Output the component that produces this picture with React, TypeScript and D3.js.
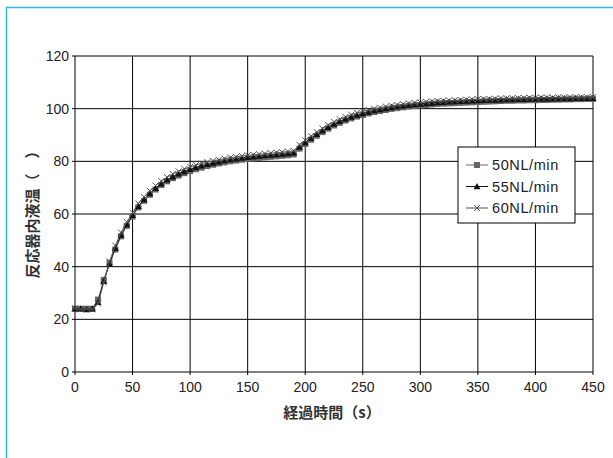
import React from 'react';
import * as d3 from 'd3';

// 経過時間 (s)
const times = [
  0, 5, 10, 15, 20, 25, 30, 35, 40, 45,
  50, 55, 60, 65, 70, 75, 80, 85, 90, 95,
  100, 105, 110, 115, 120, 125, 130, 135, 140, 145,
  150, 155, 160, 165, 170, 175, 180, 185, 190, 195,
  200, 205, 210, 215, 220, 225, 230, 235, 240, 245,
  250, 255, 260, 265, 270, 275, 280, 285, 290, 295,
  300, 305, 310, 315, 320, 325, 330, 335, 340, 345,
  350, 355, 360, 365, 370, 375, 380, 385, 390, 395,
  400, 405, 410, 415, 420, 425, 430, 435, 440, 445,
  450,
];

const temp50 = [
  24, 24, 24, 24, 27.5, 35, 41.5, 46.5, 51.5, 55.5,
  59, 62.5, 65, 67.3, 69.3, 71, 72.4, 73.6, 74.6, 75.5,
  76.3, 77, 77.6, 78.2, 78.7, 79.2, 79.6, 80, 80.3, 80.6,
  80.9, 81.1, 81.3, 81.5, 81.7, 81.9, 82.1, 82.3, 82.6, 84.8,
  86.6, 88.2, 89.7, 91.1, 92.4, 93.6, 94.6, 95.5, 96.3, 97,
  97.6, 98.2, 98.7, 99.1, 99.5, 99.9, 100.2, 100.5, 100.8, 101,
  101.2, 101.4, 101.6, 101.8, 101.9, 102, 102.1, 102.2, 102.3, 102.4,
  102.5, 102.6, 102.7, 102.8, 102.9, 103, 103, 103.1, 103.1, 103.2,
  103.2, 103.3, 103.3, 103.4, 103.4, 103.5, 103.5, 103.6, 103.6, 103.7,
  103.7,
];

const temp55 = [
  24, 24, 23.8, 24, 26.5, 34.5, 41, 47, 52, 56,
  59.5, 63, 65.5, 67.8, 69.8, 71.5, 73, 74.2, 75.3, 76.2,
  77, 77.7, 78.3, 78.9, 79.4, 79.9, 80.3, 80.7, 81, 81.3,
  81.6, 81.8, 82, 82.2, 82.4, 82.6, 82.8, 83, 83.3, 85.5,
  87.2, 88.8, 90.3, 91.7, 93, 94.2, 95.2, 96.1, 96.9, 97.6,
  98.2, 98.8, 99.3, 99.7, 100.1, 100.5, 100.8, 101.1, 101.4, 101.6,
  101.8, 102, 102.2, 102.4, 102.5, 102.6, 102.7, 102.8, 102.9, 103,
  103.1, 103.2, 103.3, 103.3, 103.4, 103.5, 103.5, 103.6, 103.6, 103.7,
  103.7, 103.8, 103.8, 103.8, 103.9, 103.9, 103.9, 104, 104, 104,
  104,
];

const temp60 = [
  24.2, 23.8, 24, 23.8, 26, 34, 42, 48, 53, 57,
  60.5, 64, 66.5, 68.8, 70.8, 72.5, 74, 75.2, 76.2, 77.1,
  77.9, 78.6, 79.2, 79.7, 80.2, 80.6, 81, 81.4, 81.7, 82,
  82.3, 82.5, 82.7, 82.9, 83.1, 83.3, 83.5, 83.7, 84, 86.3,
  88, 89.6, 91.1, 92.5, 93.8, 95, 96, 96.9, 97.7, 98.4,
  99, 99.5, 100, 100.4, 100.8, 101.1, 101.4, 101.7, 102, 102.2,
  102.4, 102.6, 102.8, 102.9, 103, 103.1, 103.2, 103.3, 103.4, 103.5,
  103.6, 103.7, 103.7, 103.8, 103.9, 103.9, 104, 104, 104.1, 104.1,
  104.1, 104.2, 104.2, 104.2, 104.3, 104.3, 104.3, 104.3, 104.4, 104.4,
  104.4,
];

const xTicks = [0, 50, 100, 150, 200, 250, 300, 350, 400, 450];
const yTicks = [0, 20, 40, 60, 80, 100, 120];
const seriesNames = ['50NL/min', '55NL/min', '60NL/min'];

const W = 613;
const H = 458;
const x = d3.scaleLinear().domain([0, 450]).range([75, 593]);
const y = d3.scaleLinear().domain([0, 120]).range([372, 56]);

const numFont = '"Liberation Sans", Arial, sans-serif';
const cjkFont = '"Noto Sans CJK JP", sans-serif';

type Kind = 'square' | 'triangle' | 'cross';

const Marker = ({ kind, cx, cy }: { kind: Kind; cx: number; cy: number }) => {
  if (kind === 'square') {
    return <rect x={cx - 3} y={cy - 3} width={6} height={6} fill="#666" />;
  }
  if (kind === 'triangle') {
    const s = 3.5;
    return (
      <path
        d={`M${cx},${cy - s}L${cx + s},${cy + s * 0.8}L${cx - s},${cy + s * 0.8}Z`}
        fill="#111"
      />
    );
  }
  const s = 3;
  return (
    <path
      d={`M${cx - s},${cy - s}L${cx + s},${cy + s}M${cx - s},${cy + s}L${cx + s},${cy - s}`}
      stroke="#555"
      strokeWidth={1}
    />
  );
};

const series = [
  { name: seriesNames[0], values: temp50, kind: 'square' as Kind, color: '#666' },
  { name: seriesNames[1], values: temp55, kind: 'triangle' as Kind, color: '#111' },
  { name: seriesNames[2], values: temp60, kind: 'cross' as Kind, color: '#555' },
];

const App = () => {
  const line = d3
    .line<number>()
    .x((_, i) => x(times[i]))
    .y((d) => y(d));

  const legX = 458;
  const legY = 147;

  return (
    <svg
      width={W}
      height={H}
      style={{ position: 'absolute', left: 0, top: 0, background: '#fff' }}
    >
      {/* outer frame */}
      <rect x={6.5} y={7.5} width={W + 20} height={H + 20} fill="none" stroke="#33b5e5" strokeWidth={1.5} />

      {/* grid */}
      {xTicks.map((t) => (
        <line key={'gx' + t} x1={x(t)} x2={x(t)} y1={y(0)} y2={y(120)} stroke="#000" strokeWidth={1} />
      ))}
      {yTicks.map((t) => (
        <line key={'gy' + t} x1={x(0)} x2={x(450)} y1={y(t)} y2={y(t)} stroke="#000" strokeWidth={1} />
      ))}
      {/* tick marks */}
      {yTicks.map((t) => (
        <line key={'ty' + t} x1={x(0) - 3} x2={x(0)} y1={y(t)} y2={y(t)} stroke="#000" />
      ))}
      {xTicks.map((t) => (
        <line key={'tx' + t} x1={x(t)} x2={x(t)} y1={y(0)} y2={y(0) + 3} stroke="#000" />
      ))}

      {/* tick labels */}
      {yTicks.map((t) => (
        <text key={'ly' + t} x={x(0) - 6} y={y(t) + 5} textAnchor="end" fontFamily={numFont} fontSize={14} fill="#222">
          {t}
        </text>
      ))}
      {xTicks.map((t) => (
        <text key={'lx' + t} x={x(t)} y={y(0) + 20} textAnchor="middle" fontFamily={numFont} fontSize={14} fill="#222">
          {t}
        </text>
      ))}

      {/* axis titles */}
      <text x={332} y={418} textAnchor="middle" fontFamily={cjkFont} fontSize={15} fontWeight="bold" fill="#333">
        経過時間（s）
      </text>
      <text
        transform="translate(38,211) rotate(-90)"
        textAnchor="middle"
        fontFamily={cjkFont}
        fontSize={15}
        fontWeight="bold"
        fill="#333"
      >
        反応器内液温（　）
      </text>

      {/* series */}
      {series.map((s) => (
        <g key={s.name}>
          <path d={line(s.values) || ''} fill="none" stroke={s.color} strokeWidth={1} />
          {s.values.map((v, i) => (
            <Marker key={i} kind={s.kind} cx={x(times[i])} cy={y(v)} />
          ))}
        </g>
      ))}

      {/* legend */}
      <rect x={legX} y={legY} width={117} height={76} fill="#fff" stroke="#000" strokeWidth={1} />
      {series.map((s, i) => {
        const ly = legY + 18 + i * 21.5;
        return (
          <g key={'leg' + s.name}>
            <line x1={466} x2={488} y1={ly} y2={ly} stroke={s.color} strokeWidth={1} />
            <Marker kind={s.kind} cx={477} cy={ly} />
            <text x={492} y={ly + 5} fontFamily={numFont} fontSize={14.5} letterSpacing={0.6} fill="#222">
              {s.name}
            </text>
          </g>
        );
      })}
    </svg>
  );
};

export default App;
